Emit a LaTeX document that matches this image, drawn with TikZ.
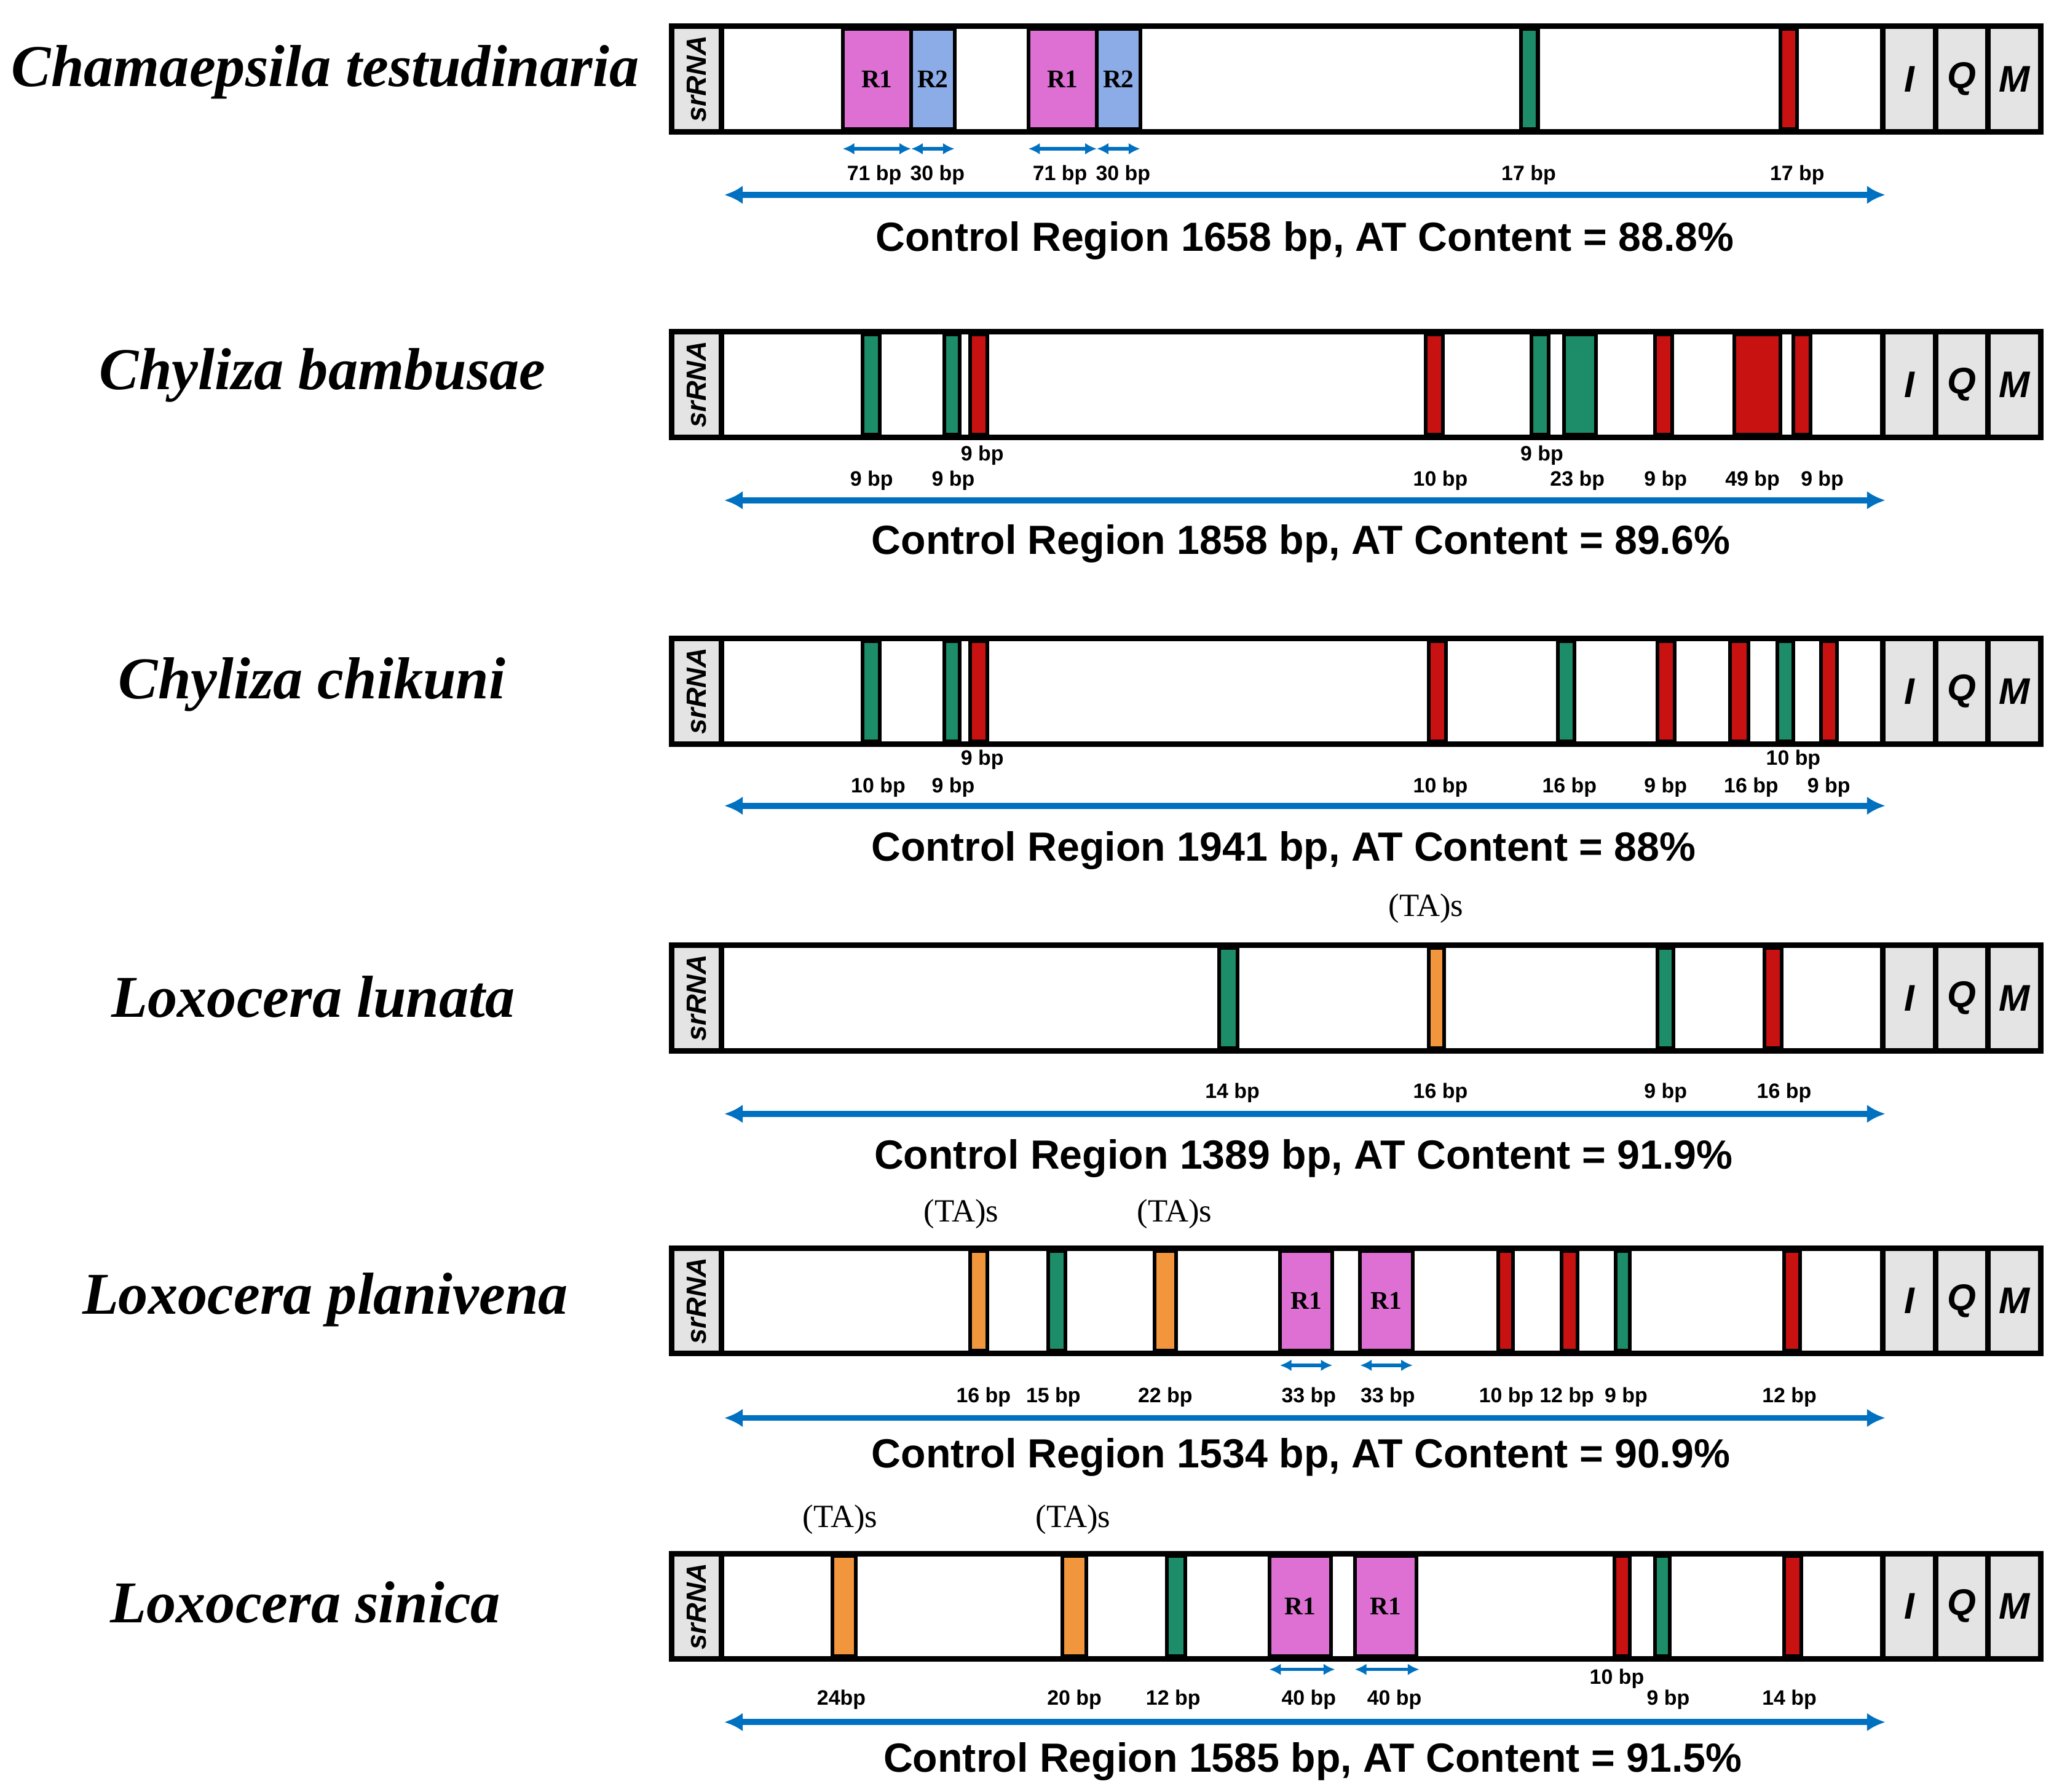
\documentclass[tikz,border=0pt]{standalone}
\usepackage{fontspec}
\setmainfont{Liberation Serif}
\setsansfont{Liberation Sans}
\usetikzlibrary{arrows.meta}
\definecolor{gr}{RGB}{28,140,105}
\definecolor{rd}{RGB}{200,18,18}
\definecolor{og}{RGB}{242,150,62}
\definecolor{pk}{RGB}{222,112,212}
\definecolor{bl}{RGB}{140,172,232}
\definecolor{ab}{RGB}{0,112,192}
\definecolor{lg}{RGB}{228,228,228}
\newcommand\genrow[2]{%
  \draw[frame] (510,#1) rectangle (1550,{#1+80});
  \draw[frame,fill=lg] (510,#1) rectangle (548,{#1+80});
  \node[srr] (sr#2) at (529,{#1+40}) {srRNA};
  \draw[frame,fill=lg] (1430,#1) rectangle (1470,{#1+80});
  \draw[frame,fill=lg] (1470,#1) rectangle (1510,{#1+80});
  \draw[frame,fill=lg] (1510,#1) rectangle (1550,{#1+80});
  \node[iqm] (i#2) at (1450,{#1+40}) {I};
  \node[iqm] (q#2) at (1490,{#1+40}) {Q};
  \node[iqm] (m#2) at (1530,{#1+40}) {M};}
\newcommand\strp[4]{\draw[stripe,fill=#4] (#2,{#1+2}) rectangle (#3,{#1+78});}
\newcommand\rep[5]{\draw[stripe,fill=#4] (#2,{#1+2}) rectangle (#3,{#1+78}); \node[rlab] at ({(#2+#3)/2},{#1+40}) {#5};}
\newcommand\sarr[3]{\draw[sar] (#2,#1) -- (#3,#1);}
\begin{document}
\begin{tikzpicture}[x=0.01cm,y=-0.01cm,
  frame/.style={line width=1.2pt,draw=black},
  stripe/.style={line width=0.8pt,draw=black},
  srr/.style={rotate=90,font=\sffamily\bfseries\itshape\fontsize{6}{6}\selectfont},
  iqm/.style={font=\sffamily\bfseries\itshape\fontsize{8}{8}\selectfont},
  rlab/.style={font=\bfseries\fontsize{5.5}{5.5}\selectfont},
  bp/.style={font=\sffamily\bfseries\fontsize{4.5}{4.5}\selectfont},
  ta/.style={font=\fontsize{7}{7}\selectfont},
  sp/.style={font=\bfseries\itshape\fontsize{12.8}{12.8}\selectfont},
  ttl/.style={font=\sffamily\bfseries\fontsize{8.8}{8.8}\selectfont},
  big/.style={draw=ab,line width=1.3pt,{Latex[length=4pt,width=4pt]}-{Latex[length=4pt,width=4pt]}},
  sar/.style={draw=ab,line width=0.7pt,{Latex[length=2.5pt,width=2.5pt]}-{Latex[length=2.5pt,width=2.5pt]}}]
\useasboundingbox (0,0) rectangle (1560,1361);
% ---- Row 1
\node[sp] (n1) at (247,55) {Chamaepsila testudinaria};
\genrow{20}{a}
\rep{20}{640}{692}{pk}{R1}\rep{20}{692}{725}{bl}{R2}
\rep{20}{781}{833}{pk}{R1}\rep{20}{833}{866}{bl}{R2}
\strp{20}{1155}{1168}{gr}\strp{20}{1352}{1365}{rd}
\sarr{113}{640}{692}\sarr{113}{692}{725}\sarr{113}{781}{833}\sarr{113}{833}{866}
\foreach \x/\t in {664/71 bp,712/30 bp,805/71 bp,853/30 bp,1161/17 bp,1365/17 bp}{\node[bp] at (\x,133) {\t};}
\draw[big] (550,148) -- (1432,148);
\node[ttl] (t1) at (991,183) {Control Region 1658 bp, AT Content = 88.8\%};
% ---- Row 2
\node[sp] (n2) at (245,285) {Chyliza bambusae};
\genrow{252}{b}
\strp{252}{655}{668}{gr}\strp{252}{717}{729}{gr}\strp{252}{737}{750}{rd}
\strp{252}{1083}{1096}{rd}\strp{252}{1163}{1176}{gr}\strp{252}{1188}{1212}{gr}
\strp{252}{1257}{1270}{rd}\strp{252}{1317}{1352}{rd}\strp{252}{1362}{1375}{rd}
\foreach \x/\y/\t in {746/346/9 bp,662/365/9 bp,724/365/9 bp,1094/365/10 bp,1171/346/9 bp,1198/365/23 bp,1265/365/9 bp,1331/365/49 bp,1384/365/9 bp}{\node[bp] at (\x,\y) {\t};}
\draw[big] (550,380) -- (1432,380);
\node[ttl] (t2) at (988,413) {Control Region 1858 bp, AT Content = 89.6\%};
% ---- Row 3
\node[sp] (n3) at (237,520) {Chyliza chikuni};
\genrow{485}{c}
\strp{485}{655}{668}{gr}\strp{485}{717}{729}{gr}\strp{485}{737}{750}{rd}
\strp{485}{1085}{1098}{rd}\strp{485}{1183}{1196}{gr}\strp{485}{1259}{1272}{rd}
\strp{485}{1314}{1328}{rd}\strp{485}{1350}{1362}{gr}\strp{485}{1383}{1395}{rd}
\foreach \x/\y/\t in {746/577/9 bp,667/598/10 bp,724/598/9 bp,1094/598/10 bp,1192/598/16 bp,1265/598/9 bp,1330/598/16 bp,1362/577/10 bp,1389/598/9 bp}{\node[bp] at (\x,\y) {\t};}
\draw[big] (550,612) -- (1432,612);
\node[ttl] (t3) at (975,646) {Control Region 1941 bp, AT Content = 88\%};
% ---- Row 4
\node[sp] (n4) at (238,757) {Loxocera lunata};
\node[ta] at (1083,690) {(TA)s};
\genrow{718}{d}
\strp{718}{926}{940}{gr}\strp{718}{1085}{1097}{og}\strp{718}{1259}{1271}{gr}\strp{718}{1340}{1353}{rd}
\foreach \x/\t in {936/14 bp,1094/16 bp,1265/9 bp,1355/16 bp}{\node[bp] at (\x,830) {\t};}
\draw[big] (550,846) -- (1432,846);
\node[ttl] (t4) at (990,880) {Control Region 1389 bp, AT Content = 91.9\%};
% ---- Row 5
\node[sp] (n5) at (247,987) {Loxocera planivena};
\node[ta] at (730,922) {(TA)s};\node[ta] at (892,922) {(TA)s};
\genrow{948}{e}
\strp{948}{737}{750}{og}\strp{948}{796}{809}{gr}\strp{948}{877}{893}{og}
\rep{948}{972}{1012}{pk}{R1}\rep{948}{1033}{1073}{pk}{R1}
\strp{948}{1138}{1149}{rd}\strp{948}{1186}{1198}{rd}\strp{948}{1227}{1238}{gr}\strp{948}{1355}{1367}{rd}
\sarr{1037}{972}{1012}\sarr{1037}{1033}{1073}
\foreach \x/\t in {747/16 bp,800/15 bp,885/22 bp,994/33 bp,1054/33 bp,1144/10 bp,1190/12 bp,1235/9 bp,1359/12 bp}{\node[bp] at (\x,1061) {\t};}
\draw[big] (550,1077) -- (1432,1077);
\node[ttl] (t5) at (988,1107) {Control Region 1534 bp, AT Content = 90.9\%};
% ---- Row 6
\node[sp] (n6) at (232,1217) {Loxocera sinica};
\node[ta] at (638,1154) {(TA)s};\node[ta] at (815,1154) {(TA)s};
\genrow{1180}{f}
\strp{1180}{632}{650}{og}\strp{1180}{807}{825}{og}\strp{1180}{886}{900}{gr}
\rep{1180}{964}{1011}{pk}{R1}\rep{1180}{1029}{1076}{pk}{R1}
\strp{1180}{1226}{1238}{rd}\strp{1180}{1257}{1268}{gr}\strp{1180}{1355}{1368}{rd}
\sarr{1268}{964}{1014}\sarr{1268}{1029}{1078}
\foreach \x/\y/\t in {639/1291/24bp,816/1291/20 bp,891/1291/12 bp,994/1291/40 bp,1059/1291/40 bp,1228/1275/10 bp,1267/1291/9 bp,1359/1291/14 bp}{\node[bp] at (\x,\y) {\t};}
\draw[big] (550,1308) -- (1432,1308);
\node[ttl] (t6) at (997,1338) {Control Region 1585 bp, AT Content = 91.5\%};
\end{tikzpicture}
\end{document}
